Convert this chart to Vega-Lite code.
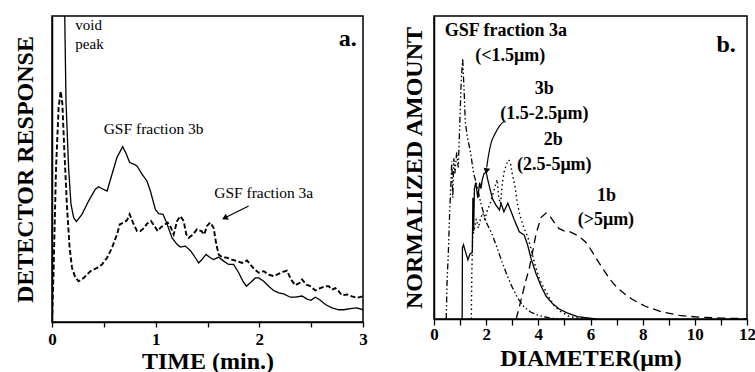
{
  "$schema": "https://vega.github.io/schema/vega-lite/v6.json",
  "padding": {"left": 12, "top": 15, "right": 8, "bottom": 0},
  "spacing": 33,
  "config": {
    "view": {"stroke": "black", "strokeWidth": 1.5},
    "axis": {"domainColor": "black", "domainWidth": 1.5, "tickColor": "black", "tickWidth": 1.3, "labelFont": "Liberation Serif", "labelFontWeight": "bold", "labelColor": "black", "titleFont": "Liberation Serif", "titleFontWeight": "bold", "titleColor": "black", "grid": false, "labelOverlap": false}
  },
  "datasets": {
    "left": [
      {"s":"3b","x":0.11,"y":130},{"s":"3b","x":0.135,"y":72},{"s":"3b","x":0.16,"y":50.5},{"s":"3b","x":0.183,"y":38.5},{"s":"3b","x":0.209,"y":34.1},{"s":"3b","x":0.235,"y":32.8},{"s":"3b","x":0.289,"y":35.2},{"s":"3b","x":0.354,"y":39.6},{"s":"3b","x":0.418,"y":43.4},{"s":"3b","x":0.45,"y":44.2},{"s":"3b","x":0.492,"y":43.4},{"s":"3b","x":0.531,"y":42.8},{"s":"3b","x":0.579,"y":48.3},{"s":"3b","x":0.627,"y":53.8},{"s":"3b","x":0.682,"y":57.3},{"s":"3b","x":0.717,"y":54.9},{"s":"3b","x":0.749,"y":52.1},{"s":"3b","x":0.788,"y":51.6},{"s":"3b","x":0.82,"y":51},{"s":"3b","x":0.868,"y":48.3},{"s":"3b","x":0.916,"y":46.1},{"s":"3b","x":0.949,"y":42.8},{"s":"3b","x":0.997,"y":36.8},{"s":"3b","x":1.029,"y":35.4},{"s":"3b","x":1.071,"y":35.2},{"s":"3b","x":1.109,"y":32.1},{"s":"3b","x":1.158,"y":27.5},{"s":"3b","x":1.206,"y":25.4},{"s":"3b","x":1.238,"y":24.5},{"s":"3b","x":1.286,"y":24.8},{"s":"3b","x":1.334,"y":23.4},{"s":"3b","x":1.383,"y":21},{"s":"3b","x":1.415,"y":19.3},{"s":"3b","x":1.447,"y":20.4},{"s":"3b","x":1.486,"y":22.1},{"s":"3b","x":1.527,"y":21},{"s":"3b","x":1.559,"y":20.4},{"s":"3b","x":1.608,"y":21.2},{"s":"3b","x":1.656,"y":19.9},{"s":"3b","x":1.704,"y":18.8},{"s":"3b","x":1.752,"y":18.8},{"s":"3b","x":1.801,"y":16.1},{"s":"3b","x":1.842,"y":13.3},{"s":"3b","x":1.875,"y":11.7},{"s":"3b","x":1.913,"y":12.8},{"s":"3b","x":1.961,"y":14.4},{"s":"3b","x":1.994,"y":14.4},{"s":"3b","x":2.042,"y":13.3},{"s":"3b","x":2.09,"y":11.7},{"s":"3b","x":2.138,"y":10.3},{"s":"3b","x":2.186,"y":9.5},{"s":"3b","x":2.235,"y":9.2},{"s":"3b","x":2.299,"y":8.1},{"s":"3b","x":2.347,"y":8.1},{"s":"3b","x":2.412,"y":8.5},{"s":"3b","x":2.46,"y":7.5},{"s":"3b","x":2.498,"y":7.1},{"s":"3b","x":2.54,"y":8.1},{"s":"3b","x":2.582,"y":7.3},{"s":"3b","x":2.637,"y":5.7},{"s":"3b","x":2.701,"y":4.6},{"s":"3b","x":2.765,"y":4},{"s":"3b","x":2.814,"y":4},{"s":"3b","x":2.878,"y":4.4},{"s":"3b","x":2.942,"y":4.6},{"s":"3b","x":3.0,"y":4},
      {"s":"3a","x":0,"y":0},{"s":"3a","x":0.016,"y":17.7},{"s":"3a","x":0.039,"y":50.5},{"s":"3a","x":0.064,"y":70.2},{"s":"3a","x":0.084,"y":75.4},{"s":"3a","x":0.1,"y":71.3},{"s":"3a","x":0.119,"y":56},{"s":"3a","x":0.145,"y":37.4},{"s":"3a","x":0.17,"y":24.3},{"s":"3a","x":0.193,"y":17.7},{"s":"3a","x":0.225,"y":14.6},{"s":"3a","x":0.257,"y":13.3},{"s":"3a","x":0.305,"y":14.4},{"s":"3a","x":0.37,"y":16.6},{"s":"3a","x":0.434,"y":17.7},{"s":"3a","x":0.482,"y":18.8},{"s":"3a","x":0.531,"y":21},{"s":"3a","x":0.579,"y":24.3},{"s":"3a","x":0.627,"y":28.6},{"s":"3a","x":0.653,"y":31.9},{"s":"3a","x":0.691,"y":32.5},{"s":"3a","x":0.723,"y":33.2},{"s":"3a","x":0.749,"y":35.2},{"s":"3a","x":0.781,"y":32.5},{"s":"3a","x":0.82,"y":29.7},{"s":"3a","x":0.852,"y":29.7},{"s":"3a","x":0.891,"y":30.8},{"s":"3a","x":0.916,"y":32.1},{"s":"3a","x":0.955,"y":33},{"s":"3a","x":0.987,"y":31.4},{"s":"3a","x":1.019,"y":29.7},{"s":"3a","x":1.051,"y":31},{"s":"3a","x":1.084,"y":31.7},{"s":"3a","x":1.116,"y":32.5},{"s":"3a","x":1.148,"y":30.8},{"s":"3a","x":1.174,"y":28.6},{"s":"3a","x":1.206,"y":33},{"s":"3a","x":1.238,"y":34.6},{"s":"3a","x":1.27,"y":33},{"s":"3a","x":1.296,"y":28.6},{"s":"3a","x":1.318,"y":27.5},{"s":"3a","x":1.36,"y":28.6},{"s":"3a","x":1.399,"y":30.3},{"s":"3a","x":1.441,"y":29.7},{"s":"3a","x":1.469,"y":28.6},{"s":"3a","x":1.495,"y":31.4},{"s":"3a","x":1.527,"y":32.5},{"s":"3a","x":1.559,"y":30.8},{"s":"3a","x":1.585,"y":25.4},{"s":"3a","x":1.608,"y":22.1},{"s":"3a","x":1.64,"y":21.2},{"s":"3a","x":1.688,"y":21},{"s":"3a","x":1.736,"y":20.4},{"s":"3a","x":1.785,"y":19.9},{"s":"3a","x":1.833,"y":19.3},{"s":"3a","x":1.881,"y":20.1},{"s":"3a","x":1.913,"y":18.8},{"s":"3a","x":1.952,"y":17.2},{"s":"3a","x":1.994,"y":16.1},{"s":"3a","x":2.042,"y":16.6},{"s":"3a","x":2.09,"y":15.5},{"s":"3a","x":2.138,"y":15},{"s":"3a","x":2.186,"y":15.7},{"s":"3a","x":2.228,"y":16.4},{"s":"3a","x":2.267,"y":16.8},{"s":"3a","x":2.305,"y":13.9},{"s":"3a","x":2.347,"y":12},{"s":"3a","x":2.389,"y":12.8},{"s":"3a","x":2.412,"y":13.9},{"s":"3a","x":2.453,"y":12.2},{"s":"3a","x":2.492,"y":11.7},{"s":"3a","x":2.54,"y":10.3},{"s":"3a","x":2.588,"y":11.1},{"s":"3a","x":2.637,"y":11.7},{"s":"3a","x":2.669,"y":11.7},{"s":"3a","x":2.701,"y":10.6},{"s":"3a","x":2.733,"y":11.1},{"s":"3a","x":2.765,"y":10.1},{"s":"3a","x":2.797,"y":8.7},{"s":"3a","x":2.846,"y":9},{"s":"3a","x":2.894,"y":8.4},{"s":"3a","x":2.942,"y":7.9},{"s":"3a","x":3.0,"y":8.4}
    ],
    "right": [
      {"s":"3a","x":0.47,"y":0},{"s":"3a","x":0.5,"y":12},{"s":"3a","x":0.55,"y":22},{"s":"3a","x":0.6,"y":35},{"s":"3a","x":0.65,"y":45},{"s":"3a","x":0.68,"y":52},{"s":"3a","x":0.72,"y":40},{"s":"3a","x":0.76,"y":53},{"s":"3a","x":0.8,"y":48},{"s":"3a","x":0.87,"y":55},{"s":"3a","x":0.93,"y":50},{"s":"3a","x":0.98,"y":62},{"s":"3a","x":1.04,"y":78},{"s":"3a","x":1.1,"y":86},{"s":"3a","x":1.16,"y":74},{"s":"3a","x":1.2,"y":65},{"s":"3a","x":1.28,"y":60},{"s":"3a","x":1.4,"y":55},{"s":"3a","x":1.52,"y":48},{"s":"3a","x":1.65,"y":44},{"s":"3a","x":1.8,"y":38},{"s":"3a","x":2.0,"y":32},{"s":"3a","x":2.2,"y":28.5},{"s":"3a","x":2.4,"y":24},{"s":"3a","x":2.6,"y":19},{"s":"3a","x":2.8,"y":14.5},{"s":"3a","x":3.0,"y":10.5},{"s":"3a","x":3.2,"y":7},{"s":"3a","x":3.45,"y":4},{"s":"3a","x":3.7,"y":2.3},{"s":"3a","x":4.0,"y":1.2},{"s":"3a","x":4.5,"y":0.2},{"s":"3a","x":5.0,"y":0},
      {"s":"3b","x":1.08,"y":0},{"s":"3b","x":1.09,"y":23.5},{"s":"3b","x":1.13,"y":24.5},{"s":"3b","x":1.18,"y":23},{"s":"3b","x":1.3,"y":19.5},{"s":"3b","x":1.38,"y":21.5},{"s":"3b","x":1.47,"y":22},{"s":"3b","x":1.49,"y":40},{"s":"3b","x":1.52,"y":29},{"s":"3b","x":1.55,"y":43},{"s":"3b","x":1.6,"y":45},{"s":"3b","x":1.68,"y":40},{"s":"3b","x":1.75,"y":45},{"s":"3b","x":1.8,"y":43},{"s":"3b","x":1.85,"y":46},{"s":"3b","x":1.92,"y":48},{"s":"3b","x":2.0,"y":48.5},{"s":"3b","x":2.06,"y":46},{"s":"3b","x":2.13,"y":43.5},{"s":"3b","x":2.25,"y":39.5},{"s":"3b","x":2.38,"y":37.5},{"s":"3b","x":2.51,"y":36},{"s":"3b","x":2.57,"y":38.2},{"s":"3b","x":2.68,"y":35.4},{"s":"3b","x":2.83,"y":38.2},{"s":"3b","x":2.96,"y":35.4},{"s":"3b","x":3.08,"y":32.7},{"s":"3b","x":3.27,"y":28.8},{"s":"3b","x":3.46,"y":27.7},{"s":"3b","x":3.59,"y":24.4},{"s":"3b","x":3.72,"y":20},{"s":"3b","x":3.91,"y":15},{"s":"3b","x":4.1,"y":11},{"s":"3b","x":4.3,"y":7.5},{"s":"3b","x":4.55,"y":5},{"s":"3b","x":4.8,"y":3.3},{"s":"3b","x":5.1,"y":2},{"s":"3b","x":5.5,"y":0.8},{"s":"3b","x":6.2,"y":0},
      {"s":"2b","x":1.43,"y":0},{"s":"2b","x":1.45,"y":15},{"s":"2b","x":1.48,"y":27},{"s":"2b","x":1.55,"y":30},{"s":"2b","x":1.62,"y":33},{"s":"2b","x":1.7,"y":30},{"s":"2b","x":1.78,"y":33},{"s":"2b","x":1.87,"y":35},{"s":"2b","x":1.95,"y":33},{"s":"2b","x":2.05,"y":36},{"s":"2b","x":2.15,"y":38},{"s":"2b","x":2.25,"y":41},{"s":"2b","x":2.35,"y":44},{"s":"2b","x":2.42,"y":46},{"s":"2b","x":2.48,"y":40},{"s":"2b","x":2.55,"y":38},{"s":"2b","x":2.62,"y":45},{"s":"2b","x":2.7,"y":49},{"s":"2b","x":2.78,"y":51},{"s":"2b","x":2.85,"y":52.5},{"s":"2b","x":2.92,"y":52},{"s":"2b","x":3.0,"y":48},{"s":"2b","x":3.1,"y":44},{"s":"2b","x":3.2,"y":38},{"s":"2b","x":3.3,"y":34},{"s":"2b","x":3.45,"y":30},{"s":"2b","x":3.6,"y":27},{"s":"2b","x":3.75,"y":22},{"s":"2b","x":3.9,"y":17},{"s":"2b","x":4.05,"y":13},{"s":"2b","x":4.2,"y":10.5},{"s":"2b","x":4.4,"y":7.3},{"s":"2b","x":4.6,"y":4.5},{"s":"2b","x":4.85,"y":2.5},{"s":"2b","x":5.2,"y":0.8},{"s":"2b","x":5.6,"y":0.2},{"s":"2b","x":6.0,"y":0},
      {"s":"1b","x":3.15,"y":0},{"s":"1b","x":3.3,"y":5},{"s":"1b","x":3.5,"y":12},{"s":"1b","x":3.66,"y":17},{"s":"1b","x":3.8,"y":23},{"s":"1b","x":3.91,"y":28},{"s":"1b","x":4.1,"y":33.5},{"s":"1b","x":4.3,"y":35},{"s":"1b","x":4.42,"y":34.3},{"s":"1b","x":4.6,"y":32},{"s":"1b","x":4.8,"y":29.8},{"s":"1b","x":5.0,"y":29},{"s":"1b","x":5.2,"y":28.8},{"s":"1b","x":5.4,"y":28},{"s":"1b","x":5.6,"y":27},{"s":"1b","x":5.8,"y":25.5},{"s":"1b","x":5.95,"y":23.8},{"s":"1b","x":6.15,"y":21},{"s":"1b","x":6.33,"y":18.5},{"s":"1b","x":6.52,"y":16},{"s":"1b","x":6.71,"y":13.5},{"s":"1b","x":6.9,"y":11.5},{"s":"1b","x":7.1,"y":9.8},{"s":"1b","x":7.35,"y":8},{"s":"1b","x":7.6,"y":6.5},{"s":"1b","x":8.1,"y":4.2},{"s":"1b","x":8.75,"y":2.3},{"s":"1b","x":9.4,"y":1.2},{"s":"1b","x":10.15,"y":0.6},{"s":"1b","x":11.0,"y":0.3},{"s":"1b","x":12,"y":0.1}
    ],
    "leftSmall": [
      {"x":0.225,"y":96.9,"txt":"void"},{"x":0.225,"y":90.9,"txt":"peak"}
    ],
    "leftLabels": [
      {"x":0.98,"y":63.1,"txt":"GSF fraction 3b"},{"x":2.042,"y":42.3,"txt":"GSF fraction 3a"}
    ],
    "leftLetter": [{"x":2.852,"y":92.6,"txt":"a."}],
    "leftArrow": [{"x":1.897,"y":37.9},{"x":1.67,"y":34.05}],
    "leftHead": [{"x":1.666,"y":34.0}],
    "rightLeftText": [{"x":0.41,"y":95.2,"txt":"GSF fraction 3a"}],
    "rightText": [
      {"x":2.92,"y":86.9,"txt":"(<1.5μm)"},{"x":4.23,"y":75.9,"txt":"3b"},{"x":4.23,"y":67.6,"txt":"(1.5-2.5μm)"},{"x":4.57,"y":59.2,"txt":"2b"},{"x":4.61,"y":50.9,"txt":"(2.5-5μm)"},{"x":6.61,"y":40.6,"txt":"1b"},{"x":6.59,"y":32.7,"txt":"(>5μm)"}
    ],
    "rightLetter": [{"x":11.2,"y":90.3,"txt":"b."}],
    "rightArrow": [{"x":2.7,"y":65.3},{"x":2.5,"y":63.6},{"x":2.35,"y":61.3},{"x":2.19,"y":58.1},{"x":2.08,"y":53.5},{"x":2.02,"y":50}],
    "rightHead": [{"x":2.01,"y":48.8}]
  },
  "hconcat": [
    {
      "width": 311,
      "height": 306,
      "encoding": {
        "x": {"field": "x", "type": "quantitative", "scale": {"domain": [0, 3], "nice": false, "zero": false},
              "axis": {"title": "TIME (min.)", "values": [0, 0.5, 1, 1.5, 2, 2.5, 3], "labelExpr": "datum.value % 1 === 0 ? '' + datum.value : ''", "tickSize": 5, "labelFontSize": 17, "labelPadding": 4, "titleFontSize": 24, "titlePadding": 2, "labelFlush": false}},
        "y": {"field": "y", "type": "quantitative", "scale": {"domain": [0, 100], "nice": false},
              "axis": {"title": "DETECTOR RESPONSE", "labels": false, "ticks": false, "titleFontSize": 24, "titlePadding": 15}}
      },
      "layer": [
        {"data": {"name": "left"}, "transform": [{"filter": "datum.s === '3b'"}], "mark": {"type": "line", "clip": true, "color": "black", "strokeWidth": 1.3}, "encoding": {}},
        {"data": {"name": "left"}, "transform": [{"filter": "datum.s === '3a'"}], "mark": {"type": "line", "clip": true, "color": "black", "strokeWidth": 1.9, "strokeDash": [5, 2.5]}, "encoding": {}},
        {"data": {"name": "leftArrow"}, "mark": {"type": "line", "color": "black", "strokeWidth": 1.2}, "encoding": {}},
        {"data": {"name": "leftHead"}, "mark": {"type": "point", "shape": "triangle-up", "filled": true, "color": "black", "size": 45, "angle": 243, "opacity": 1}},
        {"data": {"name": "leftSmall"}, "mark": {"type": "text", "font": "Liberation Serif", "color": "black", "align": "left", "baseline": "middle", "fontSize": 15}, "encoding": {"text": {"field": "txt"}}},
        {"data": {"name": "leftLabels"}, "mark": {"type": "text", "font": "Liberation Serif", "color": "black", "align": "center", "baseline": "middle", "fontSize": 15.5}, "encoding": {"text": {"field": "txt"}}},
        {"data": {"name": "leftLetter"}, "mark": {"type": "text", "font": "Liberation Serif", "color": "black", "align": "center", "baseline": "middle", "fontSize": 24, "fontWeight": "bold"}, "encoding": {"text": {"field": "txt"}}}
      ]
    },
    {
      "width": 313,
      "height": 303,
      "encoding": {
        "x": {"field": "x", "type": "quantitative", "scale": {"domain": [0, 12], "nice": false, "zero": false},
              "axis": {"title": "DIAMETER(μm)", "values": [0, 1, 2, 3, 4, 5, 6, 7, 8, 9, 10, 11, 12], "labelExpr": "datum.value % 2 === 0 ? '' + datum.value : ''", "tickSize": 6, "labelFontSize": 17, "labelPadding": 1, "titleFontSize": 24, "titlePadding": 4, "labelFlush": false}},
        "y": {"field": "y", "type": "quantitative", "scale": {"domain": [0, 100], "nice": false},
              "axis": {"title": "NORMALIZED AMOUNT", "labels": false, "ticks": false, "titleFontSize": 24, "titlePadding": 8}}
      },
      "layer": [
        {"data": {"name": "right"}, "transform": [{"filter": "datum.s === '3a'"}], "mark": {"type": "line", "clip": true, "color": "black", "strokeWidth": 1.3, "strokeDash": [6, 2.5, 1.5, 2.5, 1.5, 2.5]}, "encoding": {}},
        {"data": {"name": "right"}, "transform": [{"filter": "datum.s === '3b'"}], "mark": {"type": "line", "clip": true, "color": "black", "strokeWidth": 1.3}, "encoding": {}},
        {"data": {"name": "right"}, "transform": [{"filter": "datum.s === '2b'"}], "mark": {"type": "line", "clip": true, "color": "black", "strokeWidth": 1.4, "strokeDash": [1.5, 3]}, "encoding": {}},
        {"data": {"name": "right"}, "transform": [{"filter": "datum.s === '1b'"}], "mark": {"type": "line", "clip": true, "color": "black", "strokeWidth": 1.3, "strokeDash": [8, 5]}, "encoding": {}},
        {"data": {"name": "rightArrow"}, "mark": {"type": "line", "color": "black", "strokeWidth": 1.2, "interpolate": "monotone"}, "encoding": {}},
        {"data": {"name": "rightHead"}, "mark": {"type": "point", "shape": "triangle-up", "filled": true, "color": "black", "size": 45, "angle": 190, "opacity": 1}},
        {"data": {"name": "rightLeftText"}, "mark": {"type": "text", "font": "Liberation Serif", "color": "black", "align": "left", "baseline": "middle", "fontSize": 18, "fontWeight": "bold"}, "encoding": {"text": {"field": "txt"}}},
        {"data": {"name": "rightText"}, "mark": {"type": "text", "font": "Liberation Serif", "color": "black", "align": "center", "baseline": "middle", "fontSize": 18, "fontWeight": "bold"}, "encoding": {"text": {"field": "txt"}}},
        {"data": {"name": "rightLetter"}, "mark": {"type": "text", "font": "Liberation Serif", "color": "black", "align": "center", "baseline": "middle", "fontSize": 24, "fontWeight": "bold"}, "encoding": {"text": {"field": "txt"}}}
      ]
    }
  ]
}
